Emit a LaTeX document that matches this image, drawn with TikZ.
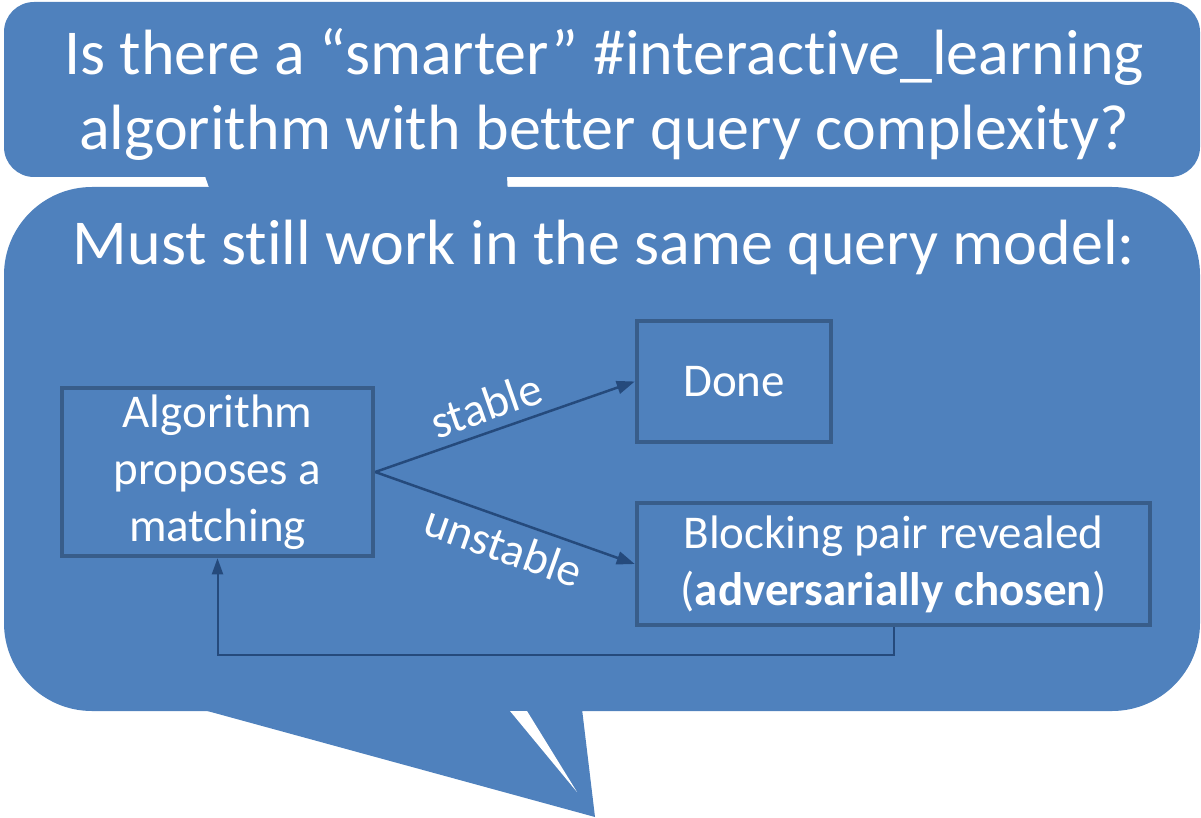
\documentclass[tikz,border=0pt]{standalone}
\usepackage{fontspec}
\setmainfont[Ligatures=NoCommon]{Carlito}
\usetikzlibrary{arrows.meta}
\definecolor{bubbleblue}{HTML}{4F81BD}
\definecolor{boxedge}{HTML}{385D8A}
\definecolor{arrowblue}{HTML}{254A7C}
\newcommand{\bigfont}{\fontsize{64}{75}\selectfont}
\newcommand{\bxfont}{\fontsize{47}{57}\selectfont}
\begin{document}
\begin{tikzpicture}[x=1pt,y=-1pt,
  bubble/.style={fill=bubbleblue},
  headline/.style={text=white,font=\bigfont,anchor=base,inner sep=0pt},
  stepbox/.style={draw=boxedge,line width=4.5pt,text=white,align=center,
    font=\bxfont,inner sep=0pt},
  flow/.style={draw=arrowblue,line width=2.5pt,
    -{Triangle[length=18pt,width=13pt]}},
  loopback/.style={draw=arrowblue,line width=2pt,
    -{Triangle[length=16pt,width=11pt]}},
  edgelabel/.style={text=white,font=\bxfont,sloped,inner sep=9pt}]
\useasboundingbox (0,0) rectangle (1201,818);

% upper speech bubble with its short tail
\fill[bubble,rounded corners=30pt] (4,2) rectangle (1200,177);
\fill[bubble] (205,176) -- (212,196) -- (508,196) -- (507,176) -- cycle;

% lower speech bubble with its long tail
\fill[bubble,rounded corners=88pt] (4,187) rectangle (1200,711);
\fill[bubble] (200,709) -- (595,817) -- (582,709) -- cycle;
\fill[white] (510,711) -- (527,711) -- (577,792) -- cycle;

% headings
\node[headline] (q1) at (604,75) {Is there a “smarter” \#interactive\_learning};
\node[headline] (q2) at (604,150) {algorithm with better query complexity?};
\node[headline] (m1) at (604,265) {Must still work in the same query model:};

% query model flow
\node[stepbox,minimum width=311pt,minimum height=168pt] (alg) at (217.5,472)
  {Algorithm\\proposes a\\matching};
\node[stepbox,minimum width=194pt,minimum height=121pt] (done) at (734,381.5)
  {Done};
\node[stepbox,minimum width=513pt,minimum height=122pt] (blk) at (893.5,564)
  {Blocking pair revealed\\(\textbf{adversarially chosen})};

\draw[flow] (alg.east) -- node[edgelabel,above,pos=0.46] {stable} (done.west);
\draw[flow] (alg.east) -- node[edgelabel,below,pos=0.53] {unstable} (blk.west);

\coordinate (turn) at (217.5,655);
\draw[loopback] (blk.south) |- (turn) -- (alg.south);
\end{tikzpicture}
\end{document}
